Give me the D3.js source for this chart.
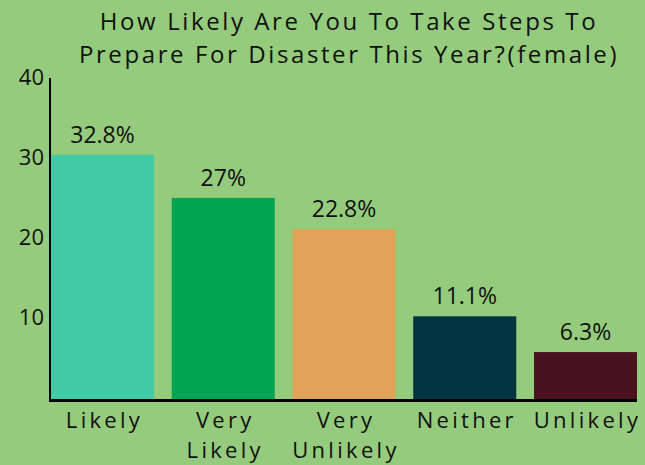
<!DOCTYPE html>
<html><head><meta charset="utf-8">
<script src="https://cdn.jsdelivr.net/npm/d3@7"></script>
<style>
html,body{margin:0;padding:0;background:#95cb7c;}
svg{display:block;font-family:"Open Sans","Noto Sans",sans-serif;}
</style></head>
<body>
<svg id="chart" width="645" height="465"></svg>
<script>
const categories = [["Likely"], ["Very", "Likely"], ["Very", "Unlikely"], ["Neither"], ["Unlikely"]];
const values = [32.8, 27, 22.8, 11.1, 6.3];
const valueLabels = ["32.8%", "27%", "22.8%", "11.1%", "6.3%"];
const colors = ["#42c9a5", "#00a551", "#e0a458", "#003441", "#4a121e"];
const yTicks = [10, 20, 30, 40];
const titleLines = ["How Likely Are You To Take Steps To", "Prepare For Disaster This Year?(female)"];

const svg = d3.select("#chart");
const W = 645, H = 465;
svg.append("rect").attr("width", W).attr("height", H).attr("fill", "#95cb7c");

const keys = categories.map((c, i) => i);
const x = d3.scaleBand().domain(keys).range([51, 637]).paddingInner(0.147).paddingOuter(0);
const yAxisScale = d3.scaleLinear().domain([0, 40]).range([397, 77]);
const yBar = d3.scaleLinear().domain([0, 43.5]).range([399, 75]);

// title
svg.append("g").selectAll("text").data(titleLines).join("text")
  .attr("x", 349).attr("y", (d, i) => 30 + i * 33)
  .attr("text-anchor", "middle")
  .attr("font-size", 24).attr("letter-spacing", 2.6).attr("fill", "#111")
  .text(d => d);

// bars
svg.append("g").selectAll("rect").data(values).join("rect")
  .attr("x", (d, i) => x(i)).attr("width", x.bandwidth())
  .attr("y", d => yBar(d)).attr("height", d => yBar(0) - yBar(d))
  .attr("fill", (d, i) => colors[i]);

// value labels
svg.append("g").selectAll("text").data(values).join("text")
  .attr("x", (d, i) => x(i) + x.bandwidth() / 2)
  .attr("y", d => yBar(d) - 12)
  .attr("text-anchor", "middle").attr("font-size", 23).attr("fill", "#111")
  .text((d, i) => valueLabels[i]);

// y axis
const yAxis = d3.axisLeft(yAxisScale).tickValues(yTicks).tickSize(0).tickPadding(6).tickFormat(d3.format("d"));
const gy = svg.append("g").attr("transform", "translate(50,0)").call(yAxis);
gy.select(".domain").remove();
gy.selectAll("text").attr("font-size", 22).attr("fill", "#111").attr("font-family", "Open Sans, Noto Sans, sans-serif");
svg.append("line").attr("x1", 50).attr("x2", 50).attr("y1", yAxisScale(40) + 1).attr("y2", 402)
  .attr("stroke", "#000").attr("stroke-width", 2);

// x axis
svg.append("line").attr("x1", 49).attr("x2", 637).attr("y1", 400.5).attr("y2", 400.5)
  .attr("stroke", "#000").attr("stroke-width", 3);
const xl = svg.append("g").selectAll("text").data(categories).join("text")
  .attr("text-anchor", "middle").attr("font-size", 22).attr("letter-spacing", 3.3).attr("fill", "#111")
  .attr("transform", (d, i) => `translate(${x(i) + x.bandwidth() / 2 + 2},428)`);
xl.selectAll("tspan").data(d => d).join("tspan")
  .attr("x", 0).attr("dy", (d, j) => j === 0 ? 0 : 30).text(d => d);
</script>
</body></html>
